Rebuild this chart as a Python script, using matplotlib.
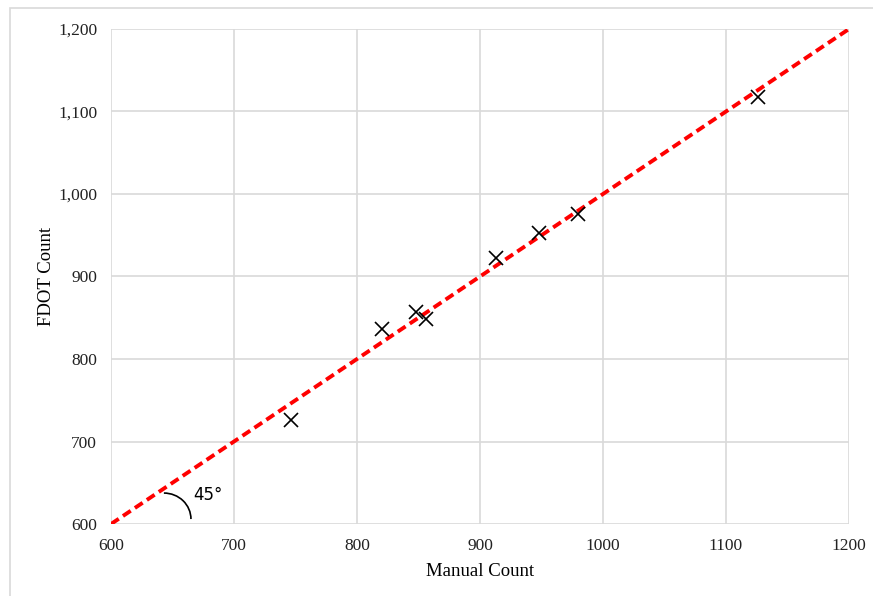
import numpy as np
import matplotlib.pyplot as plt
from matplotlib.patches import Arc, Rectangle
from matplotlib.ticker import FuncFormatter

manual = [746, 820, 848, 856, 913, 948, 980, 1126]
fdot = [726, 836, 857, 848, 923, 953, 976, 1117]
ref_line = [600, 1200]
x_ticks = [600, 700, 800, 900, 1000, 1100, 1200]
y_ticks = [600, 700, 800, 900, 1000, 1100, 1200]

plt.rcParams['font.family'] = ['Liberation Serif', 'DejaVu Serif']

fig = plt.figure(figsize=(8.73, 5.96), dpi=100)
fig.patches.append(Rectangle((10/873, -0.1), 1.2, (596-8)/596 + 0.1,
                             transform=fig.transFigure, fill=False,
                             edgecolor='#d9d9d9', lw=1.2))
ax = fig.add_axes([111/873, (596-524)/596, (849-111)/873, (524-29)/596])

ax.plot(ref_line, ref_line, ls='--', color='#ff0000', lw=2.8, dashes=(2.4, 1.3), zorder=3)
ax.plot(manual, fdot, ls='None', marker='x', color='black', ms=10, mew=1.2, zorder=4)

# 45 degree annotation
ax.add_patch(Arc((643, 606), 44, 63, theta1=0, theta2=90, color='black', lw=1.2, zorder=5))
ax.text(667, 635, '45°', fontsize=12, family=['DejaVu Sans'], va='center', ha='left')

ax.set_xlim(600, 1200)
ax.set_ylim(600, 1200)
ax.set_xticks(x_ticks)
ax.set_yticks(y_ticks)
ax.yaxis.set_major_formatter(FuncFormatter(lambda v, p: f'{int(v):,}'))
ax.grid(True, color='#d9d9d9', lw=1.2)
ax.set_axisbelow(True)
for s in ax.spines.values():
    s.set_visible(False)
ax.tick_params(length=0, labelsize=12.5, colors='#222222', pad=10)

ax.set_xlabel('Manual Count', fontsize=13.5, labelpad=6.5)
ax.set_ylabel('FDOT Count', fontsize=13.5, labelpad=2)

fig.savefig('out.png', dpi=100)
